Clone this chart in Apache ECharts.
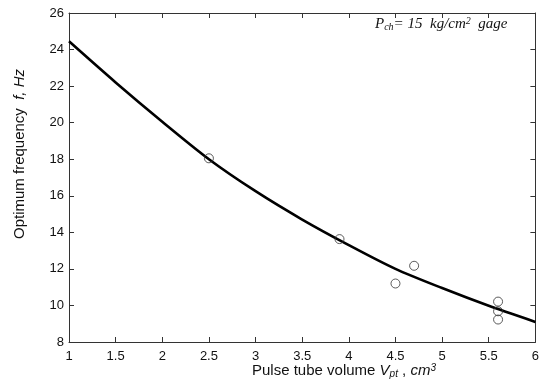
<!DOCTYPE html>
<html>
<head>
    <meta charset="utf-8">
    <title>Optimum frequency</title>
    <script src="https://cdn.jsdelivr.net/npm/echarts@6/dist/echarts.min.js"></script>
    <style>
        html, body { margin: 0; padding: 0; background: #fff; }
        #main { width: 542px; height: 380px; }
    </style>
</head>
<body>
<div id="main"></div>
<script>
    // fitted curve (Pulse tube volume, cm3 -> frequency, Hz)
    var curveX = [1, 1.5, 2, 2.5, 3, 3.5, 4, 4.5, 5, 5.5, 6];
    var curveY = [24.45, 22.2, 20.05, 18.0, 16.25, 14.7, 13.3, 12.0, 10.95, 9.98, 9.1];

    // measured points
    var pointX = [2.5, 3.9, 4.5, 4.7, 5.6, 5.6, 5.6];
    var pointY = [18.05, 13.63, 11.2, 12.17, 10.21, 9.68, 9.23];

    var xTicks = [1, 1.5, 2, 2.5, 3, 3.5, 4, 4.5, 5, 5.5, 6];
    var yTicks = [8, 10, 12, 14, 16, 18, 20, 22, 24, 26];

    var font = 'Liberation Sans, Arial, sans-serif';
    var serif = 'Liberation Serif, Times New Roman, serif';

    var chart = echarts.init(document.getElementById('main'), null, {renderer: 'canvas'});

    var axisLine = {show: true, lineStyle: {color: '#333', width: 1}};
    var tick = {show: true, inside: true, length: 5, lineStyle: {color: '#333'}};

    var option = {
        backgroundColor: '#fff',
        animation: false,
        grid: {left: 69, right: 3, top: 13, bottom: 38, containLabel: false},
        xAxis: [{
            type: 'value',
            min: xTicks[0], max: xTicks[xTicks.length - 1], interval: 0.5,
            axisLine: axisLine, axisTick: tick,
            splitLine: {show: false},
            axisLabel: {
                color: '#111', fontSize: 13, fontFamily: font, margin: 8,
                showMaxLabel: true, showMinLabel: true
            }
        }, {
            type: 'value', position: 'top',
            min: xTicks[0], max: xTicks[xTicks.length - 1], interval: 0.5,
            axisLine: axisLine, axisTick: tick,
            splitLine: {show: false}, axisLabel: {show: false}
        }],
        yAxis: [{
            type: 'value',
            min: yTicks[0], max: yTicks[yTicks.length - 1], interval: 2,
            axisLine: axisLine, axisTick: tick,
            splitLine: {show: false},
            axisLabel: {color: '#111', fontSize: 13, fontFamily: font, margin: 5}
        }, {
            type: 'value', position: 'right',
            min: yTicks[0], max: yTicks[yTicks.length - 1], interval: 2,
            axisLine: axisLine, axisTick: tick,
            splitLine: {show: false}, axisLabel: {show: false}
        }],
        graphic: [{
            // x axis title
            type: 'text', x: 344, y: 371,
            style: {
                text: '{n|Pulse tube volume }{i|V}{s|pt}{n| , }{i|cm}{sup|3}',
                align: 'center', verticalAlign: 'middle',
                rich: {
                    n: {fontSize: 15, fontFamily: font, fill: '#111'},
                    i: {fontSize: 15, fontFamily: font, fontStyle: 'italic', fill: '#111'},
                    s: {fontSize: 10, fontFamily: font, fontStyle: 'italic', fill: '#111', verticalAlign: 'bottom', padding: [6, 0, 0, 0]},
                    sup: {fontSize: 10, fontFamily: font, fontStyle: 'italic', fill: '#111', verticalAlign: 'top', padding: [0, 0, 6, 0]}
                }
            }
        }, {
            // y axis title
            type: 'text', x: 20, y: 154, rotation: Math.PI / 2,
            style: {
                text: '{n|Optimum frequency  }{i|f, Hz}',
                align: 'center', verticalAlign: 'middle',
                rich: {
                    n: {fontSize: 15, fontFamily: font, fill: '#111'},
                    i: {fontSize: 15, fontFamily: font, fontStyle: 'italic', fill: '#111'}
                }
            }
        }, {
            // condition label
            type: 'text', x: 375, y: 24,
            style: {
                text: '{i|P}{s|ch}{i|= 15  kg/cm}{sup|2}{i|  gage}',
                verticalAlign: 'middle',
                rich: {
                    i: {fontSize: 15, fontFamily: serif, fontStyle: 'italic', fill: '#111'},
                    s: {fontSize: 10, fontFamily: serif, fontStyle: 'italic', fill: '#111', verticalAlign: 'bottom', padding: [6, 0, 0, 0]},
                    sup: {fontSize: 10, fontFamily: serif, fontStyle: 'italic', fill: '#111', verticalAlign: 'top', padding: [0, 0, 6, 0]}
                }
            }
        }],
        series: [{
            type: 'line',
            data: curveX.map(function (x, i) { return [x, curveY[i]]; }),
            smooth: 0.3,
            showSymbol: false,
            lineStyle: {color: '#000', width: 2.6}
        }, {
            type: 'scatter',
            data: pointX.map(function (x, i) { return [x, pointY[i]]; }),
            symbol: 'circle',
            symbolSize: 9,
            itemStyle: {color: 'rgba(255,255,255,0)', borderColor: '#333', borderWidth: 1},
            z: 3
        }]
    };

    chart.setOption(option);
</script>
</body>
</html>
